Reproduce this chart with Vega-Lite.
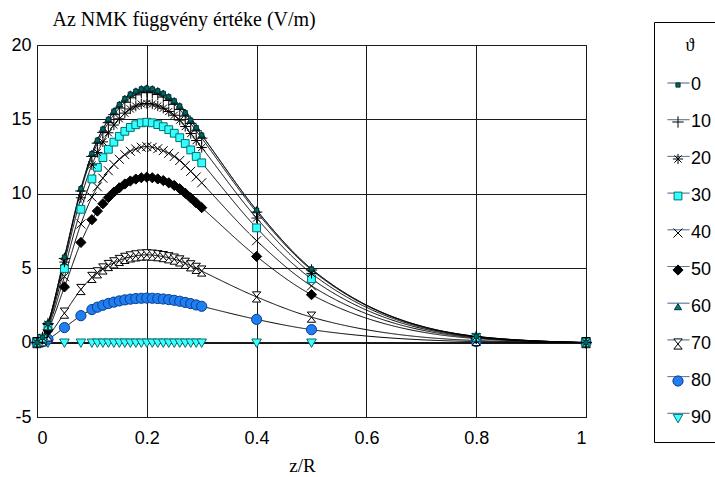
{
  "$schema": "https://vega.github.io/schema/vega-lite/v6.json",
  "autosize": "none",
  "width": 549,
  "height": 372,
  "padding": {"left": 37, "top": 45, "right": 129, "bottom": 60},
  "background": "#ffffff",
  "config": {
    "view": {"stroke": "#000000", "strokeWidth": 1},
    "axis": {
      "grid": true,
      "gridColor": "#1a1a1a",
      "gridWidth": 1,
      "gridOpacity": 1,
      "domain": false,
      "ticks": false,
      "labelFont": "Liberation Sans",
      "labelFontSize": 18,
      "labelColor": "#000000",
      "titleColor": "#000000",
      "titleFont": "Liberation Serif",
      "titleFontWeight": "normal"
    }
  },
  "data": {
    "values": [
      {"x": 0, "0": 0, "10": 0, "20": 0, "30": 0, "40": 0, "50": 0, "60": 0, "70": 0, "80": 0, "90": 0},
      {"x": 0.01, "0": 0.35, "10": 0.34, "20": 0.33, "30": 0.3, "40": 0.27, "50": 0.23, "60": 0.35, "70": 0.12, "80": 0.06, "90": 0},
      {"x": 0.02, "0": 1.3, "10": 1.28, "20": 1.22, "30": 1.13, "40": 1.0, "50": 0.85, "60": 1.3, "70": 0.45, "80": 0.23, "90": 0},
      {"x": 0.05, "0": 5.75, "10": 5.66, "20": 5.41, "30": 4.98, "40": 4.43, "50": 3.74, "60": 5.75, "70": 1.98, "80": 1.01, "90": 0},
      {"x": 0.08, "0": 10.35, "10": 10.19, "20": 9.73, "30": 8.96, "40": 7.97, "50": 6.73, "60": 10.35, "70": 3.57, "80": 1.81, "90": 0},
      {"x": 0.1, "0": 12.7, "10": 12.51, "20": 11.94, "30": 11.0, "40": 9.78, "50": 8.26, "60": 12.7, "70": 4.38, "80": 2.22, "90": 0},
      {"x": 0.11, "0": 13.6, "10": 13.4, "20": 12.78, "30": 11.78, "40": 10.47, "50": 8.84, "60": 13.6, "70": 4.69, "80": 2.38, "90": 0},
      {"x": 0.12, "0": 14.35, "10": 14.13, "20": 13.49, "30": 12.43, "40": 11.05, "50": 9.33, "60": 14.35, "70": 4.95, "80": 2.51, "90": 0},
      {"x": 0.13, "0": 15.0, "10": 14.78, "20": 14.1, "30": 12.99, "40": 11.55, "50": 9.75, "60": 15.0, "70": 5.18, "80": 2.63, "90": 0},
      {"x": 0.14, "0": 15.55, "10": 15.32, "20": 14.62, "30": 13.47, "40": 11.97, "50": 10.11, "60": 15.55, "70": 5.36, "80": 2.72, "90": 0},
      {"x": 0.15, "0": 16.0, "10": 15.76, "20": 15.04, "30": 13.86, "40": 12.32, "50": 10.4, "60": 16.0, "70": 5.52, "80": 2.8, "90": 0},
      {"x": 0.16, "0": 16.4, "10": 16.15, "20": 15.42, "30": 14.2, "40": 12.63, "50": 10.66, "60": 16.4, "70": 5.66, "80": 2.87, "90": 0},
      {"x": 0.17, "0": 16.7, "10": 16.45, "20": 15.7, "30": 14.46, "40": 12.86, "50": 10.86, "60": 16.7, "70": 5.76, "80": 2.92, "90": 0},
      {"x": 0.18, "0": 16.9, "10": 16.65, "20": 15.89, "30": 14.64, "40": 13.01, "50": 10.99, "60": 16.9, "70": 5.83, "80": 2.96, "90": 0},
      {"x": 0.19, "0": 17.05, "10": 16.79, "20": 16.03, "30": 14.77, "40": 13.13, "50": 11.08, "60": 17.05, "70": 5.88, "80": 2.98, "90": 0},
      {"x": 0.2, "0": 17.1, "10": 16.84, "20": 16.07, "30": 14.81, "40": 13.17, "50": 11.12, "60": 17.1, "70": 5.9, "80": 2.99, "90": 0},
      {"x": 0.21, "0": 17.05, "10": 16.79, "20": 16.03, "30": 14.77, "40": 13.13, "50": 11.08, "60": 17.05, "70": 5.88, "80": 2.98, "90": 0},
      {"x": 0.22, "0": 16.92, "10": 16.67, "20": 15.9, "30": 14.65, "40": 13.03, "50": 11.0, "60": 16.92, "70": 5.84, "80": 2.96, "90": 0},
      {"x": 0.23, "0": 16.75, "10": 16.5, "20": 15.75, "30": 14.51, "40": 12.9, "50": 10.89, "60": 16.75, "70": 5.78, "80": 2.93, "90": 0},
      {"x": 0.24, "0": 16.52, "10": 16.27, "20": 15.53, "30": 14.31, "40": 12.72, "50": 10.74, "60": 16.52, "70": 5.7, "80": 2.89, "90": 0},
      {"x": 0.25, "0": 16.25, "10": 16.01, "20": 15.28, "30": 14.07, "40": 12.51, "50": 10.56, "60": 16.25, "70": 5.61, "80": 2.84, "90": 0},
      {"x": 0.26, "0": 15.9, "10": 15.66, "20": 14.95, "30": 13.77, "40": 12.24, "50": 10.34, "60": 15.9, "70": 5.49, "80": 2.78, "90": 0},
      {"x": 0.27, "0": 15.45, "10": 15.22, "20": 14.52, "30": 13.38, "40": 11.9, "50": 10.04, "60": 15.45, "70": 5.33, "80": 2.7, "90": 0},
      {"x": 0.28, "0": 14.95, "10": 14.73, "20": 14.05, "30": 12.95, "40": 11.51, "50": 9.72, "60": 14.95, "70": 5.16, "80": 2.62, "90": 0},
      {"x": 0.29, "0": 14.45, "10": 14.23, "20": 13.58, "30": 12.51, "40": 11.13, "50": 9.39, "60": 14.45, "70": 4.99, "80": 2.53, "90": 0},
      {"x": 0.3, "0": 13.95, "10": 13.74, "20": 13.11, "30": 12.08, "40": 10.74, "50": 9.07, "60": 13.95, "70": 4.81, "80": 2.44, "90": 0},
      {"x": 0.4, "0": 8.9, "10": 8.77, "20": 8.37, "30": 7.71, "40": 6.85, "50": 5.79, "60": 8.9, "70": 3.07, "80": 1.56, "90": 0},
      {"x": 0.5, "0": 4.95, "10": 4.88, "20": 4.65, "30": 4.29, "40": 3.81, "50": 3.22, "60": 4.95, "70": 1.71, "80": 0.87, "90": 0},
      {"x": 0.8, "0": 0.42, "10": 0.41, "20": 0.39, "30": 0.36, "40": 0.32, "50": 0.27, "60": 0.42, "70": 0.14, "80": 0.07, "90": 0},
      {"x": 1, "0": 0, "10": 0, "20": 0, "30": 0, "40": 0, "50": 0, "60": 0, "70": 0, "80": 0, "90": 0}
    ]
  },
  "transform": [
    {"fold": ["0", "10", "20", "30", "40", "50", "60", "70", "80", "90"], "as": ["theta", "v"]}
  ],
  "encoding": {
    "x": {
      "field": "x",
      "type": "quantitative",
      "scale": {"domain": [0, 1], "nice": false, "zero": false},
      "axis": {
        "values": [0, 0.2, 0.4, 0.6, 0.8, 1],
        "labelExpr": "'' + datum.value",
        "labelPadding": 12,
        "title": "z/R",
        "titleFontSize": 19,
        "titleX": 265,
        "titleY": 54,
        "titleAlign": "center",
        "titleBaseline": "alphabetic"
      }
    },
    "y": {
      "field": "v",
      "type": "quantitative",
      "scale": {"domain": [-5, 20], "nice": false, "zero": false},
      "axis": {
        "values": [-5, 0, 5, 10, 15, 20],
        "labelExpr": "'' + datum.value",
        "labelPadding": 6,
        "title": "Az NMK függvény értéke (V/m)",
        "titleFontSize": 20,
        "titleAngle": 0,
        "titleX": 15,
        "titleY": -20,
        "titleAlign": "left",
        "titleBaseline": "alphabetic"
      }
    }
  },
  "layer": [
    {
      "mark": {"type": "line", "interpolate": "monotone", "strokeWidth": 1},
      "encoding": {
        "detail": {"field": "theta", "type": "nominal"},
        "stroke": {
          "condition": {"test": "datum.theta === '0'", "value": "#2f5f8f"},
          "value": "#000000"
        },
        "strokeDash": {
          "field": "theta",
          "type": "nominal",
          "scale": {
            "domain": ["0", "10", "20", "30", "40", "50", "60", "70", "80", "90", "-"],
            "range": [[1, 0], [1, 0], [1, 0], [1, 0], [1, 0], [1, 0], [1, 0], [1, 0], [1, 0], [1, 0], [1, 0]]
          },
          "legend": {
            "values": ["0", "10", "20", "30", "40", "50", "60", "70", "80", "90"],
            "orient": "none",
            "legendX": 620,
            "legendY": -23,
            "title": " ",
            "titleFont": "Liberation Serif",
            "titleFontSize": 18,
            "titlePadding": 21.5,
            "labelExpr": "''",
            "labelFontSize": 18,
            "rowPadding": 15.7,
            "padding": 10,
            "strokeColor": "transparent",
            "fillColor": "transparent",
            "symbolType": "M-1,0L1,0",
            "symbolSize": 484,
            "symbolStrokeWidth": 1,
            "symbolStrokeColor": "#244a7a",
            "symbolDash": [1, 0]
          }
        }
      }
    },
    {
      "mark": {"type": "point", "filled": true, "opacity": 1, "size": 144, "strokeWidth": 1},
      "encoding": {
        "order": {"field": "theta", "sort": "descending"},
        "shape": {
          "field": "theta",
          "type": "nominal",
          "scale": {
            "domain": ["0", "10", "20", "30", "40", "50", "60", "70", "80", "90"],
            "range": [
              "M-0.35,-0.35L0.35,-0.35L0.35,0.35L-0.35,0.35Z",
              "M-0.95,0L0.95,0M0,-0.95L0,0.95",
              "M-0.85,0L0.85,0M0,-0.85L0,0.85M-0.6,-0.6L0.6,0.6M-0.6,0.6L0.6,-0.6",
              "M-0.65,-0.65L0.65,-0.65L0.65,0.65L-0.65,0.65Z",
              "M-0.75,-0.75L0.75,0.75M-0.75,0.75L0.75,-0.75",
              "M0,-0.85L0.85,0L0,0.85L-0.85,0Z",
              "M0,-0.55L0.6,0.45L-0.6,0.45Z",
              "M-0.7,-0.85L0.7,-0.85L-0.7,0.85L0.7,0.85Z",
              "M-0.85,0A0.85,0.85,0,1,1,0.85,0A0.85,0.85,0,1,1,-0.85,0Z",
              "M-0.8,-0.6L0.8,-0.6L0,0.8Z"
            ]
          },
          "legend": {
            "orient": "none",
            "legendX": 617,
            "legendY": -23,
            "title": "ϑ",
            "titleFont": "Liberation Serif",
            "titleFontSize": 18,
            "titleFontWeight": "normal",
            "titleColor": "#000000",
            "titleAnchor": "middle",
            "titlePadding": 21,
            "labelFont": "Liberation Sans",
            "labelFontSize": 18,
            "labelColor": "#000000",
            "labelOffset": 4,
            "rowPadding": 19,
            "padding": 15,
            "strokeColor": "#000000",
            "fillColor": "transparent",
            "symbolSize": 144,
            "symbolStrokeWidth": 1,
            "symbolOpacity": 1,
            "encode": {
              "symbols": {
                "fill": {
                  "value": {
                    "expr": "({'0': '#006666', '10': 'transparent', '20': 'transparent', '30': '#33ffff', '40': 'transparent', '50': '#000000', '60': '#008080', '70': '#ffffff', '80': '#1f7ff0', '90': '#40ffff'})[datum.value]"
                  }
                },
                "stroke": {
                  "value": {
                    "expr": "({'0': '#003333', '10': '#000000', '20': '#000000', '30': '#006f6f', '40': '#000000', '50': '#000000', '60': '#003333', '70': '#000000', '80': '#0b3d91', '90': '#006f6f'})[datum.value]"
                  }
                }
              }
            }
          }
        },
        "fill": {
          "field": "theta",
          "type": "nominal",
          "legend": null,
          "scale": {
            "domain": ["0", "10", "20", "30", "40", "50", "60", "70", "80", "90"],
            "range": ["#006666", "transparent", "transparent", "#33ffff", "transparent", "#000000", "#008080", "#ffffff", "#1f7ff0", "#40ffff"]
          }
        },
        "stroke": {
          "field": "theta",
          "type": "nominal",
          "legend": null,
          "scale": {
            "domain": ["0", "10", "20", "30", "40", "50", "60", "70", "80", "90"],
            "range": ["#003333", "#000000", "#000000", "#006f6f", "#000000", "#000000", "#003333", "#000000", "#0b3d91", "#006f6f"]
          }
        }
      }
    }
  ]
}
